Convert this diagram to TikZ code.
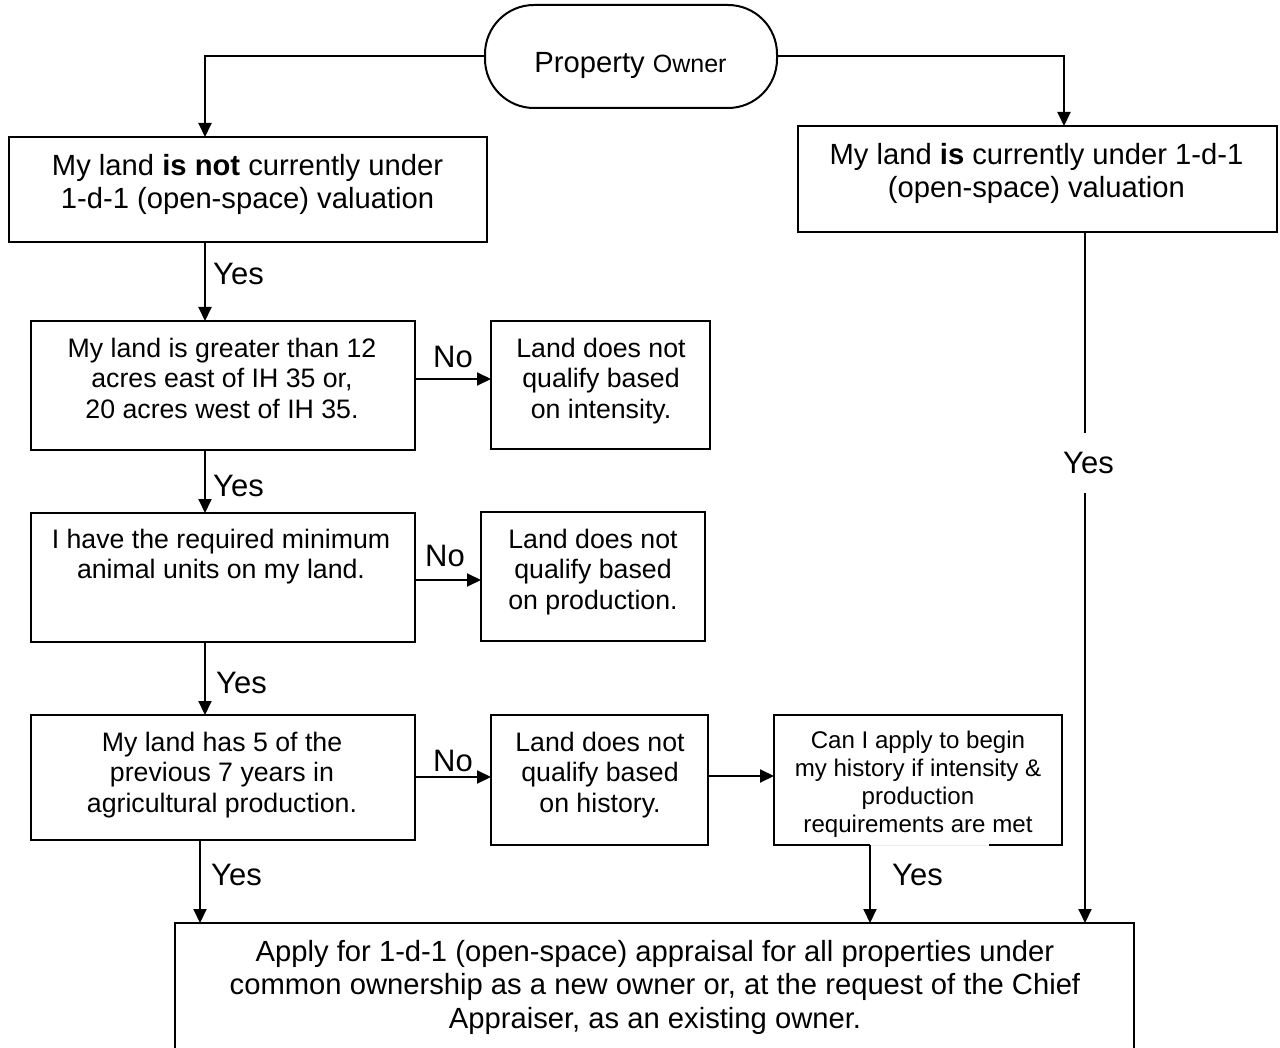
\documentclass[tikz,border=0pt]{standalone}
\usepackage{fontspec}
\setmainfont{Liberation Sans}
\usetikzlibrary{arrows.meta,calc}
\begin{document}
\begin{tikzpicture}[x=1pt,y=-1pt,
  box/.style={draw, line width=2pt, rectangle, inner sep=0pt, outer sep=0pt},
  frame/.style={rectangle, inner sep=0pt, outer sep=0pt},
  txtL/.style={inner sep=0pt, anchor=north, align=center, font=\fontsize{29.2}{33.6}\selectfont},
  txtM/.style={inner sep=0pt, anchor=north, align=center, font=\fontsize{26.7}{30.7}\selectfont},
  txtS/.style={inner sep=0pt, anchor=north, align=center, font=\fontsize{24.1}{28}\selectfont},
  lbl/.style={inner sep=0pt, anchor=base west, font=\fontsize{31}{36}\selectfont},
  conn/.style={line width=2pt, line join=miter},
  arr/.style={conn, -{Triangle[length=14pt,width=13pt]}}]
\useasboundingbox (0,0) rectangle (1280,1048);
\clip (0,0) rectangle (1280,1048);
\fill[white] (0,0) rectangle (1280,1048);

% column and row helpers
\coordinate (colL) at (205,0);
\coordinate (colL2) at (1064,0);
\coordinate (col6) at (200,0);
\coordinate (col8) at (870,0);
\coordinate (colR) at (1085,0);
\coordinate (rowA) at (0,379);
\coordinate (rowB) at (0,580);
\coordinate (rowC) at (0,777);
\coordinate (rowD) at (0,776);
\coordinate (gapTop) at (0,433);
\coordinate (gapBot) at (0,493);

% boxes
\node[box, rounded corners=49pt, minimum width=292pt, minimum height=103pt] (st) at (631,56.5) {};
\node[box, minimum width=478pt, minimum height=105pt] (b1) at (248,189.5) {};
\node[box, minimum width=479pt, minimum height=106pt] (bR) at (1037.5,179) {};
\node[box, minimum width=384pt, minimum height=129pt] (b2) at (223,385.5) {};
\node[box, minimum width=219pt, minimum height=128pt] (b3) at (600.5,385) {};
\node[box, minimum width=384pt, minimum height=129pt] (b4) at (223,577.5) {};
\node[box, minimum width=224pt, minimum height=129pt] (b5) at (593,576.5) {};
\node[box, minimum width=384pt, minimum height=125pt] (b6) at (223,777.5) {};
\node[box, minimum width=217pt, minimum height=130pt] (b7) at (599.5,780) {};
\node[frame, minimum width=288pt, minimum height=130pt] (b8) at (918,780) {};
\node[box, minimum width=959pt, minimum height=157pt] (bB) at (654.5,1001.5) {};

% outline of b8 with its gap in the bottom edge
\draw[gray!15, line width=1pt] ([xshift=96pt]b8.south west) -- ([xshift=-73pt]b8.south east);
\draw[conn] ([xshift=96pt]b8.south west) -- (b8.south west) -- (b8.north west) -- (b8.north east) -- (b8.south east) -- ([xshift=-73pt]b8.south east);

% texts
\node[txtL] (t0) at (630.5,48.5) {\strut Property {\fontsize{25}{30}\selectfont Owner}};
\node[txtL] (t1) at (247.5,151.5) {\strut My land \textbf{is not} currently under\\1-d-1 (open-space) valuation};
\node[txtL] (tR) at (1036.5,140.5) {\strut My land \textbf{is} currently under 1-d-1\\(open-space) valuation};
\node[txtM] (t2) at (222,335.5) {\strut My land is greater than 12\\acres east of IH 35 or,\\20 acres west of IH 35.};
\node[txtM] (t3) at (601,335.5) {\strut Land does not\\qualify based\\on intensity.};
\node[txtM] (t4) at (221,526.5) {\strut I have the required minimum\\animal units on my land.};
\node[txtM] (t5) at (593,526.5) {\strut Land does not\\qualify based\\on production.};
\node[txtM] (t6) at (222,729.5) {\strut My land has 5 of the\\previous 7 years in\\agricultural production.};
\node[txtM] (t7) at (600,729.5) {\strut Land does not\\qualify based\\on history.};
\node[txtS] (t8) at (918,728.4) {\strut Can I apply to begin\\my history if intensity \&\\production\\requirements are met};
\node[txtL] (tB) at (655,937.5) {\strut Apply for 1-d-1 (open-space) appraisal for all properties under\\common ownership as a new owner or, at the request of the Chief\\Appraiser, as an existing owner.};

% labels
\node[lbl] (y1) at (213,285) {Yes};
\node[lbl] (y2) at (213,496) {Yes};
\node[lbl] (y3) at (216,693) {Yes};
\node[lbl] (y4) at (211,885) {Yes};
\node[lbl] (y5) at (892,885) {Yes};
\node[lbl] (yR) at (1063,473) {Yes};
\node[lbl] (n1) at (433,368) {No};
\node[lbl] (n2) at (425,566) {No};
\node[lbl] (n3) at (433,771) {No};

% connectors
\draw[arr] (st.west) -| (b1.north -| colL);
\draw[arr] (st.east) -| (bR.north -| colL2);
\draw[arr] (b1.south -| colL) -- (b2.north -| colL);
\draw[arr] (b2.south -| colL) -- (b4.north -| colL);
\draw[arr] (b4.south -| colL) -- (b6.north -| colL);
\draw[arr] (b6.south -| col6) -- (bB.north -| col6);
\draw[arr] (b2.east |- rowA) -- (b3.west |- rowA);
\draw[arr] (b4.east |- rowB) -- (b5.west |- rowB);
\draw[arr] (b6.east |- rowC) -- (b7.west |- rowC);
\draw[arr] (b7.east |- rowD) -- (b8.west |- rowD);
\draw[arr] (b8.south -| col8) -- (bB.north -| col8);
\draw[conn] (bR.south -| colR) -- (colR |- gapTop);
\draw[arr] (colR |- gapBot) -- (bB.north -| colR);
\end{tikzpicture}
\end{document}
